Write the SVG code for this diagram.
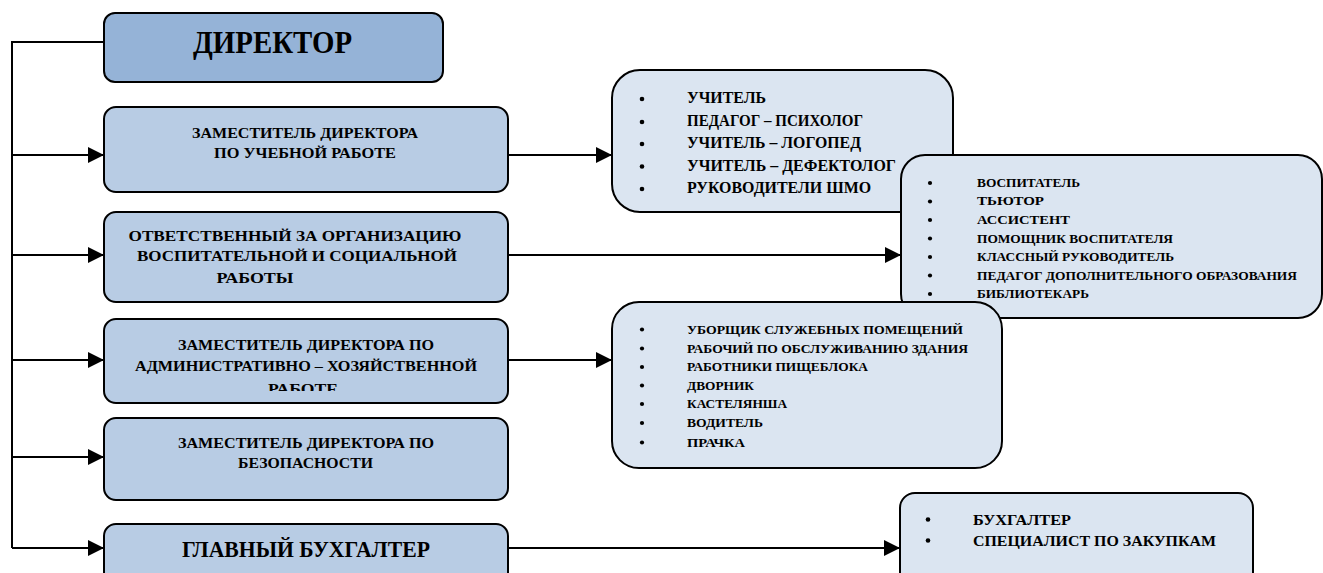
<svg xmlns="http://www.w3.org/2000/svg" width="1323" height="573" viewBox="0 0 1323 573">
<style>
text{font-family:"Liberation Serif","Times New Roman",serif;font-weight:bold;fill:#000}
.box{stroke:#000;stroke-width:2}
.dir{fill:#95b3d7}
.mid{fill:#b8cce4}
.lst{fill:#dbe5f1}
.c{text-anchor:middle}
.conn{fill:none;stroke:#000;stroke-width:2}
.arr{marker-end:url(#ah)}
.bul{fill:#000}
</style>
<defs>
<marker id="ah" viewBox="0 0 16 16" refX="15" refY="8" markerWidth="16" markerHeight="16" markerUnits="userSpaceOnUse" orient="auto">
<path d="M0,0 L16,8 L0,16 Z" fill="#000"/>
</marker>
<clipPath id="clip4"><rect x="104" y="319" width="404" height="72"/></clipPath>
</defs>
<rect width="1323" height="573" fill="#fff"/>

<g id="connectors">
<path class="conn" d="M104,42 H12 V548"/>
<path class="conn arr" d="M12,155 H103"/>
<path class="conn arr" d="M12,255 H103"/>
<path class="conn arr" d="M12,360 H103"/>
<path class="conn arr" d="M12,457 H103"/>
<path class="conn arr" d="M12,548 H103"/>
<path class="conn arr" d="M508,155 H611"/>
<path class="conn arr" d="M508,255 H900"/>
<path class="conn arr" d="M508,360 H611"/>
<path class="conn arr" d="M508,548 H899"/>
</g>

<g id="director">
<rect class="box dir" x="104" y="13" width="339" height="69" rx="11"/>
<text class="c" x="272.5" y="53" font-size="32" textLength="159" lengthAdjust="spacingAndGlyphs">ДИРЕКТОР</text>
</g>

<g id="deputy-study">
<rect class="box mid" x="104" y="107" width="404" height="85" rx="12"/>
<text class="c" x="305" y="138" font-size="15" textLength="226" lengthAdjust="spacingAndGlyphs">ЗАМЕСТИТЕЛЬ ДИРЕКТОРА</text>
<text class="c" x="305" y="158" font-size="15" textLength="182" lengthAdjust="spacingAndGlyphs">ПО УЧЕБНОЙ РАБОТЕ</text>
</g>

<g id="responsible-upbringing">
<rect class="box mid" x="104" y="212" width="404" height="90" rx="12"/>
<text class="c" x="295" y="240.5" font-size="15" textLength="333" lengthAdjust="spacingAndGlyphs">ОТВЕТСТВЕННЫЙ ЗА ОРГАНИЗАЦИЮ</text>
<text class="c" x="297" y="261" font-size="15" textLength="320" lengthAdjust="spacingAndGlyphs">ВОСПИТАТЕЛЬНОЙ И СОЦИАЛЬНОЙ</text>
<text class="c" x="255" y="282.5" font-size="15" textLength="77" lengthAdjust="spacingAndGlyphs">РАБОТЫ</text>
</g>

<g id="deputy-admin">
<rect class="box mid" x="104" y="319" width="404" height="84" rx="12"/>
<text class="c" x="306" y="350" font-size="15" textLength="256" lengthAdjust="spacingAndGlyphs">ЗАМЕСТИТЕЛЬ ДИРЕКТОРА ПО</text>
<text class="c" x="306" y="371" font-size="15" textLength="342" lengthAdjust="spacingAndGlyphs">АДМИНИСТРАТИВНО – ХОЗЯЙСТВЕННОЙ</text>
<text class="c" x="303" y="393.5" font-size="15" textLength="70" lengthAdjust="spacingAndGlyphs" clip-path="url(#clip4)">РАБОТЕ</text>
</g>

<g id="deputy-security">
<rect class="box mid" x="104" y="418" width="404" height="82" rx="12"/>
<text class="c" x="306" y="448" font-size="15" textLength="256" lengthAdjust="spacingAndGlyphs">ЗАМЕСТИТЕЛЬ ДИРЕКТОРА ПО</text>
<text class="c" x="305.5" y="468" font-size="15" textLength="135" lengthAdjust="spacingAndGlyphs">БЕЗОПАСНОСТИ</text>
</g>

<g id="chief-accountant">
<rect class="box mid" x="104" y="524" width="404" height="70" rx="12"/>
<text class="c" x="306" y="557" font-size="23" textLength="248" lengthAdjust="spacingAndGlyphs">ГЛАВНЫЙ БУХГАЛТЕР</text>
</g>

<g id="list-teachers">
<rect class="box lst" x="612" y="70" width="341" height="142" rx="28"/>
<circle class="bul" cx="642" cy="99" r="2.3"/>
<circle class="bul" cx="642" cy="122" r="2.3"/>
<circle class="bul" cx="642" cy="144" r="2.3"/>
<circle class="bul" cx="642" cy="166.5" r="2.3"/>
<circle class="bul" cx="642" cy="189" r="2.3"/>
<text x="687" y="103" font-size="16" textLength="79" lengthAdjust="spacingAndGlyphs">УЧИТЕЛЬ</text>
<text x="687" y="126" font-size="16" textLength="176" lengthAdjust="spacingAndGlyphs">ПЕДАГОГ – ПСИХОЛОГ</text>
<text x="687" y="148" font-size="16" textLength="174" lengthAdjust="spacingAndGlyphs">УЧИТЕЛЬ – ЛОГОПЕД</text>
<text x="687" y="170.5" font-size="16" textLength="209" lengthAdjust="spacingAndGlyphs">УЧИТЕЛЬ – ДЕФЕКТОЛОГ</text>
<text x="687" y="193" font-size="16" textLength="184" lengthAdjust="spacingAndGlyphs">РУКОВОДИТЕЛИ ШМО</text>
</g>

<g id="list-upbringing">
<rect class="box lst" x="901" y="155" width="421" height="163" rx="24"/>
<circle class="bul" cx="930" cy="183" r="2.1"/>
<circle class="bul" cx="930" cy="201.5" r="2.1"/>
<circle class="bul" cx="930" cy="220" r="2.1"/>
<circle class="bul" cx="930" cy="238.5" r="2.1"/>
<circle class="bul" cx="930" cy="257" r="2.1"/>
<circle class="bul" cx="930" cy="275.5" r="2.1"/>
<circle class="bul" cx="930" cy="294" r="2.1"/>
<text x="977" y="186.5" font-size="13" textLength="103" lengthAdjust="spacingAndGlyphs">ВОСПИТАТЕЛЬ</text>
<text x="977" y="205" font-size="13" textLength="67" lengthAdjust="spacingAndGlyphs">ТЬЮТОР</text>
<text x="977" y="224" font-size="13" textLength="93" lengthAdjust="spacingAndGlyphs">АССИСТЕНТ</text>
<text x="977" y="242.5" font-size="13" textLength="196" lengthAdjust="spacingAndGlyphs">ПОМОЩНИК ВОСПИТАТЕЛЯ</text>
<text x="977" y="261" font-size="13" textLength="197" lengthAdjust="spacingAndGlyphs">КЛАССНЫЙ РУКОВОДИТЕЛЬ</text>
<text x="977" y="279.5" font-size="13" textLength="320" lengthAdjust="spacingAndGlyphs">ПЕДАГОГ ДОПОЛНИТЕЛЬНОГО ОБРАЗОВАНИЯ</text>
<text x="977" y="298" font-size="13" textLength="112" lengthAdjust="spacingAndGlyphs">БИБЛИОТЕКАРЬ</text>
</g>

<g id="list-service">
<rect class="box lst" x="612" y="302" width="390" height="166" rx="27"/>
<circle class="bul" cx="642" cy="329.5" r="2.1"/>
<circle class="bul" cx="642" cy="348.5" r="2.1"/>
<circle class="bul" cx="642" cy="367" r="2.1"/>
<circle class="bul" cx="642" cy="385.5" r="2.1"/>
<circle class="bul" cx="642" cy="404" r="2.1"/>
<circle class="bul" cx="642" cy="423" r="2.1"/>
<circle class="bul" cx="642" cy="442.5" r="2.1"/>
<text x="687" y="333.5" font-size="13" textLength="276" lengthAdjust="spacingAndGlyphs">УБОРЩИК СЛУЖЕБНЫХ ПОМЕЩЕНИЙ</text>
<text x="687" y="352.5" font-size="13" textLength="281" lengthAdjust="spacingAndGlyphs">РАБОЧИЙ ПО ОБСЛУЖИВАНИЮ ЗДАНИЯ</text>
<text x="687" y="371" font-size="13" textLength="181" lengthAdjust="spacingAndGlyphs">РАБОТНИКИ ПИЩЕБЛОКА</text>
<text x="687" y="389.5" font-size="13" textLength="67" lengthAdjust="spacingAndGlyphs">ДВОРНИК</text>
<text x="687" y="408" font-size="13" textLength="100" lengthAdjust="spacingAndGlyphs">КАСТЕЛЯНША</text>
<text x="687" y="427" font-size="13" textLength="76" lengthAdjust="spacingAndGlyphs">ВОДИТЕЛЬ</text>
<text x="687" y="446.5" font-size="13" textLength="58" lengthAdjust="spacingAndGlyphs">ПРАЧКА</text>
</g>

<g id="list-accounting">
<rect class="box lst" x="900" y="493" width="353" height="100" rx="15"/>
<circle class="bul" cx="928" cy="519.5" r="2.3"/>
<circle class="bul" cx="928" cy="540.5" r="2.3"/>
<text x="973" y="524.5" font-size="15.5" textLength="98" lengthAdjust="spacingAndGlyphs">БУХГАЛТЕР</text>
<text x="973" y="545.5" font-size="15.5" textLength="243" lengthAdjust="spacingAndGlyphs">СПЕЦИАЛИСТ ПО ЗАКУПКАМ</text>
</g>
</svg>
